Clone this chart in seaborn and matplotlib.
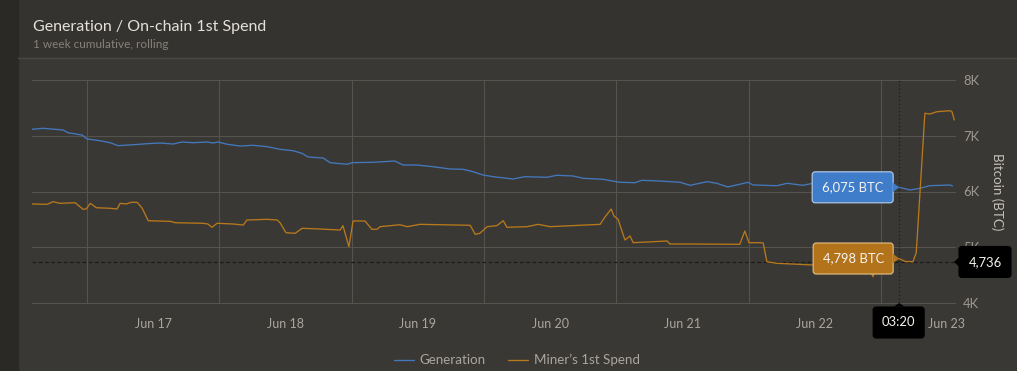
import matplotlib
matplotlib.use("Agg")
import pandas as pd
import seaborn as sns
import matplotlib.pyplot as plt
import matplotlib.dates as mdates
from matplotlib.patches import FancyBboxPatch, Polygon, Rectangle
from matplotlib.lines import Line2D
from matplotlib.transforms import IdentityTransform

# Generation, 1 week cumulative rolling (BTC)
gen_time = ["2023-06-16 14:00", "2023-06-16 16:00", "2023-06-16 19:40", "2023-06-16 20:30", "2023-06-16 23:05",
            "2023-06-17 00:00", "2023-06-17 02:20", "2023-06-17 04:10", "2023-06-17 05:40", "2023-06-17 08:20",
            "2023-06-17 10:50", "2023-06-17 13:15", "2023-06-17 15:35", "2023-06-17 17:15", "2023-06-17 19:15",
            "2023-06-17 21:45", "2023-06-17 22:50", "2023-06-17 23:45", "2023-06-18 01:25", "2023-06-18 03:45",
            "2023-06-18 06:05", "2023-06-18 08:40", "2023-06-18 11:00", "2023-06-18 13:20", "2023-06-18 15:00",
            "2023-06-18 16:05", "2023-06-18 18:50", "2023-06-18 20:05", "2023-06-18 23:10", "2023-06-19 00:05",
            "2023-06-19 03:50", "2023-06-19 07:50", "2023-06-19 09:20", "2023-06-19 11:50", "2023-06-19 14:45",
            "2023-06-19 17:50", "2023-06-19 20:15", "2023-06-19 22:00", "2023-06-19 23:50", "2023-06-20 01:40",
            "2023-06-20 05:15", "2023-06-20 07:25", "2023-06-20 11:25", "2023-06-20 13:15", "2023-06-20 16:10",
            "2023-06-20 18:00", "2023-06-20 21:35", "2023-06-21 00:40", "2023-06-21 03:25", "2023-06-21 04:40",
            "2023-06-21 07:55", "2023-06-21 11:35", "2023-06-21 13:25", "2023-06-21 16:30", "2023-06-21 18:15",
            "2023-06-21 20:15", "2023-06-21 23:55", "2023-06-22 00:50", "2023-06-22 05:10", "2023-06-22 07:00",
            "2023-06-22 09:55", "2023-06-22 11:40", "2023-06-22 15:40", "2023-06-22 19:20", "2023-06-22 23:00",
            "2023-06-23 02:10", "2023-06-23 03:20", "2023-06-23 05:20", "2023-06-23 07:05", "2023-06-23 08:55",
            "2023-06-23 12:35", "2023-06-23 13:00"]
gen_btc = [7116, 7134, 7103, 7055, 7013, 6942, 6911, 6875, 6822, 6839, 6857, 6870, 6852, 6888, 6875,
           6888, 6870, 6888, 6847, 6816, 6829, 6804, 6757, 6732, 6685, 6619, 6601, 6517, 6488, 6517,
           6524, 6547, 6475, 6475, 6445, 6404, 6398, 6355, 6296, 6266, 6224, 6266, 6255, 6291, 6278,
           6237, 6219, 6165, 6158, 6201, 6188, 6165, 6111, 6176, 6147, 6081, 6165, 6117, 6104, 6147,
           6111, 6147, 6117, 6135, 6099, 6090, 6075, 6027, 6057, 6104, 6117, 6099]

# Miner's 1st spend, 1 week cumulative rolling (BTC)
spend_time = ["2023-06-16 14:00", "2023-06-16 16:45", "2023-06-16 17:50", "2023-06-16 19:05", "2023-06-16 21:50",
              "2023-06-16 23:15", "2023-06-16 23:50", "2023-06-17 00:35", "2023-06-17 01:40", "2023-06-17 04:10",
              "2023-06-17 05:25", "2023-06-17 06:00", "2023-06-17 07:05", "2023-06-17 08:00", "2023-06-17 09:05",
              "2023-06-17 10:00", "2023-06-17 11:05", "2023-06-17 15:05", "2023-06-17 16:00", "2023-06-17 21:00",
              "2023-06-17 21:55", "2023-06-17 22:40", "2023-06-17 23:35", "2023-06-18 02:30", "2023-06-18 04:20",
              "2023-06-18 05:00", "2023-06-18 08:40", "2023-06-18 10:30", "2023-06-18 11:00", "2023-06-18 12:05",
              "2023-06-18 13:45", "2023-06-18 15:00", "2023-06-18 18:15", "2023-06-18 21:55", "2023-06-18 22:25",
              "2023-06-18 23:30", "2023-06-19 00:15", "2023-06-19 02:25", "2023-06-19 03:40", "2023-06-19 04:35",
              "2023-06-19 05:10", "2023-06-19 08:45", "2023-06-19 10:05", "2023-06-19 12:25", "2023-06-19 21:30",
              "2023-06-19 22:25", "2023-06-19 23:15", "2023-06-20 00:35", "2023-06-20 02:20", "2023-06-20 03:30",
              "2023-06-20 04:10", "2023-06-20 07:50", "2023-06-20 09:50", "2023-06-20 12:00", "2023-06-20 21:05",
              "2023-06-20 22:00", "2023-06-20 23:05", "2023-06-20 23:35", "2023-06-21 00:20", "2023-06-21 01:35",
              "2023-06-21 02:30", "2023-06-21 03:05", "2023-06-21 09:15", "2023-06-21 09:45", "2023-06-21 13:25",
              "2023-06-21 22:25", "2023-06-21 23:20", "2023-06-22 00:05", "2023-06-22 02:05", "2023-06-22 02:40",
              "2023-06-22 03:20", "2023-06-22 05:10", "2023-06-22 11:40", "2023-06-22 16:35", "2023-06-22 21:40",
              "2023-06-22 22:35", "2023-06-22 23:30", "2023-06-23 02:10", "2023-06-23 03:20", "2023-06-23 04:25",
              "2023-06-23 05:50", "2023-06-23 06:25", "2023-06-23 06:35", "2023-06-23 08:00", "2023-06-23 08:55",
              "2023-06-23 10:10", "2023-06-23 12:35", "2023-06-23 12:55", "2023-06-23 13:20"]
spend_btc = [5776, 5770, 5817, 5788, 5799, 5681, 5686, 5788, 5709, 5699, 5686, 5788, 5776, 5806, 5806,
             5699, 5476, 5465, 5440, 5430, 5417, 5358, 5430, 5417, 5399, 5489, 5501, 5489, 5440, 5261,
             5250, 5340, 5327, 5309, 5387, 5010, 5471, 5471, 5322, 5322, 5369, 5404, 5369, 5411, 5394,
             5232, 5250, 5369, 5387, 5476, 5358, 5369, 5411, 5369, 5411, 5548, 5686, 5561, 5501, 5130,
             5202, 5082, 5112, 5058, 5058, 5053, 5291, 5082, 5082, 5076, 4741, 4712, 4682, 4691, 4682,
             4472, 4700, 4775, 4798, 4745, 4741, 4897, 5130, 7403, 7390, 7431, 7449, 7431, 7283]

series_names = ["Generation", "Miner\u2019s 1st Spend"]
series_colors = ["#4478bd", "#b8781c"]
y_ticks = [4000, 5000, 6000, 7000, 8000]
y_tick_labels = ["4K", "5K", "6K", "7K", "8K"]
hover_time = "2023-06-23 03:20"
hover_gen = 6075
hover_spend = 4798
cursor_btc = 4736

df = pd.concat([
    pd.DataFrame({"time": pd.to_datetime(gen_time), "btc": gen_btc, "series": series_names[0]}),
    pd.DataFrame({"time": pd.to_datetime(spend_time), "btc": spend_btc, "series": series_names[1]}),
], ignore_index=True)

sns.set_style("dark")
plt.rcParams["font.family"] = ["Lato", "DejaVu Sans"]

W, H = 1017, 371
BG = "#3a3834"
fig = plt.figure(figsize=(W / 100, H / 100), dpi=100)
fig.patch.set_facecolor(BG)
fig.add_artist(Rectangle((18 / W, 1 - 57 / H), 1, 57 / H, transform=fig.transFigure, color="#353330", zorder=0))
fig.add_artist(Rectangle((0, 0), 18 / W, 1, transform=fig.transFigure, color="#2b2926", zorder=0))
fig.add_artist(Line2D([18 / W, 1], [1 - 57.5 / H] * 2, transform=fig.transFigure, color="#4b4844", lw=1))

fig.text(33 / W, 1 - 27 / H, "Generation / On-chain 1st Spend", color="#e4e1dc", fontsize=11.5, va="center")
fig.text(33 / W, 1 - 44 / H, "1 week cumulative, rolling", color="#85807a", fontsize=8.5, va="center")

ax = fig.add_axes([32 / W, 1 - 303 / H, (955 - 32) / W, (303 - 80) / H])
ax.set_facecolor("none")
sns.lineplot(data=df, x="time", y="btc", hue="series", palette=series_colors,
             estimator=None, linewidth=0.95, ax=ax)

ax.set_xlim(pd.Timestamp("2023-06-16 14:00"), pd.Timestamp("2023-06-23 13:28"))
ax.set_ylim(4000, 8000)
for s in ax.spines.values():
    s.set_visible(False)

ax.yaxis.tick_right()
ax.set_yticks(y_ticks)
ax.set_yticklabels(y_tick_labels)
ax.xaxis.set_major_locator(mdates.DayLocator())
ax.xaxis.set_major_formatter(plt.NullFormatter())
ax.xaxis.set_minor_locator(mdates.HourLocator(byhour=[12]))
ax.xaxis.set_minor_formatter(mdates.DateFormatter("%b %d"))
ax.tick_params(axis="x", which="both", length=0, pad=11, labelsize=9, labelcolor="#aaa59e")
ax.tick_params(axis="y", length=0, pad=6, labelsize=9.4, labelcolor="#9d9891")
ax.grid(True, axis="y", color="#56534e", lw=0.8)
ax.grid(True, axis="x", which="major", color="#56534e", lw=0.8)
for gl in ax.get_ygridlines():
    gl.set_clip_on(False)
ax.set_xlabel("")
ax.set_ylabel("")
fig.text(997 / W, 1 - 192 / H, "Bitcoin (BTC)", rotation=270, color="#c6c2bc",
         fontsize=9.6, ha="center", va="center")

handles, labels = ax.get_legend_handles_labels()
ax.legend(handles, labels, loc="center", bbox_to_anchor=(517 / W, 11 / H), bbox_transform=fig.transFigure,
          ncol=2, frameon=False, fontsize=9.6, labelcolor="#aaa59e", handlelength=1.5,
          handletextpad=0.45, columnspacing=1.7)

# crosshair
ht = pd.Timestamp(hover_time)
ax.axvline(ht, color="#1c1b1a", lw=0.9, ls=(0, (1, 2)), zorder=1)
ax.axhline(cursor_btc, color="#1c1b1a", lw=0.9, ls=(0, (3, 2)), zorder=1)


def to_px(t, v):
    return ax.transData.transform((mdates.date2num(t), v))


def box(x0, y0, w, h, face, edge, text, tri):
    fig.add_artist(FancyBboxPatch((x0, y0), w, h, boxstyle="round,pad=0,rounding_size=3",
                                  transform=IdentityTransform(), facecolor=face, edgecolor=edge,
                                  lw=0.8, zorder=10))
    fig.add_artist(Polygon(tri, closed=True, transform=IdentityTransform(), facecolor=face,
                           edgecolor="none", zorder=11))
    fig.text(x0 + w / 2, y0 + h / 2, text, transform=IdentityTransform(), color="#f6f3ee",
             fontsize=9.4, ha="center", va="center", zorder=12)


px, py = to_px(ht, hover_gen)
box(px - 87, py - 15.5, 81, 31, "#3f7cc9", "#b8d0ee", f"{hover_gen:,} BTC",
    [(px - 6.5, py + 5), (px, py), (px - 6.5, py - 5)])
px, py = to_px(ht, hover_spend)
box(px - 86, py - 15.5, 80, 31, "#b2731a", "#e6c28a", f"{hover_spend:,} BTC",
    [(px - 6.5, py + 5), (px, py), (px - 6.5, py - 5)])
px, py = to_px(pd.Timestamp("2023-06-23 13:28"), cursor_btc)
box(px + 4, py - 15.5, 52, 31, "#000000", "#000000", f"{cursor_btc:,}",
    [(px + 4.5, py + 5), (px - 1, py), (px + 4.5, py - 5)])
px, py = to_px(ht, 4000)
box(px - 26, py - 35, 51, 31, "#000000", "#000000", ht.strftime("%H:%M"),
    [(px - 5, py - 3.5), (px, py), (px + 5, py - 3.5)])

fig.savefig("out.png", dpi=100, facecolor=BG)
